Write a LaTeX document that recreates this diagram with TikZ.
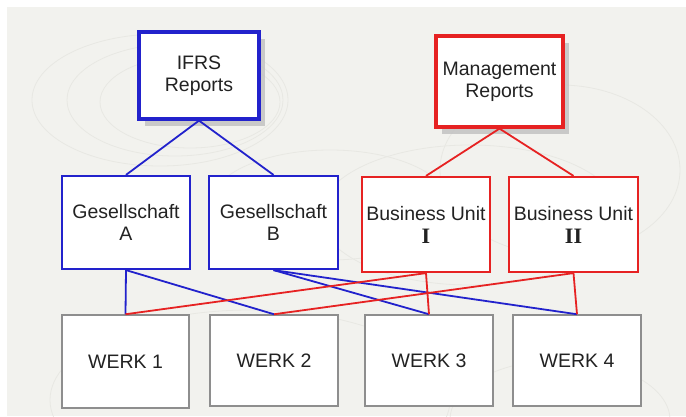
\documentclass[tikz,border=0pt]{standalone}
\usepackage{fontspec}
\setmainfont{Liberation Sans}
\newfontfamily\romfont{Liberation Serif}
\usetikzlibrary{shadows}
\definecolor{bg}{HTML}{F2F2EE}
\definecolor{deco}{HTML}{E8E8E3}
\definecolor{bblue}{HTML}{2222CC}
\definecolor{rred}{HTML}{E62222}
\definecolor{wgray}{HTML}{8E8E8E}
\definecolor{txt}{HTML}{222222}
\tikzset{
  box/.style={draw, fill=white, rectangle, inner sep=0pt, align=center,
    font=\fontsize{19.5}{22}\selectfont, text=txt},
  topbox/.style={box, line width=3.2pt,
    drop shadow={shadow xshift=6pt, shadow yshift=-7pt, fill=black!24, opacity=0.85}},
  midbox/.style={box, line width=2.2pt},
  werkbox/.style={box, draw=wgray, line width=1.5pt},
  bconn/.style={draw=bblue, line width=1.8pt},
  rconn/.style={draw=rred, line width=1.8pt},
  decoline/.style={draw=deco, line width=0.8pt}
}
\begin{document}
\begin{tikzpicture}[x=1pt,y=-1pt]
\useasboundingbox (0,0) rectangle (686,416);
\fill[white] (0,0) rectangle (686,416);
\fill[bg] (7,7) rectangle (686,416);
% faint background decoration
\draw[decoline] (160,100) ellipse [x radius=128, y radius=66];
\draw[decoline] (175,100) ellipse [x radius=108, y radius=56];
\draw[decoline] (190,102) ellipse [x radius=90, y radius=46];
\draw[decoline] (330,205) ellipse [x radius=120, y radius=55];
\draw[decoline] (560,170) ellipse [x radius=120, y radius=85];
\draw[decoline] (470,215) ellipse [x radius=150, y radius=70];
\draw[decoline] (250,400) ellipse [x radius=200, y radius=90];
\draw[decoline] (560,420) ellipse [x radius=110, y radius=60];

% nodes
\node[topbox, draw=bblue, minimum width=120pt, minimum height=87pt] (ifrs) at (199,75.5) {IFRS\\Reports};
\node[topbox, draw=rred, minimum width=127pt, minimum height=91pt] (mgmt) at (499.5,81.5) {Management\\Reports};

\node[midbox, draw=bblue, minimum width=128pt, minimum height=93pt] (ga) at (126,222.5) {Gesellschaft\\A};
\node[midbox, draw=bblue, minimum width=129pt, minimum height=93pt] (gb) at (273.5,222.5) {Gesellschaft\\B};
\node[midbox, draw=rred, minimum width=128pt, minimum height=95pt] (bu1) at (426,224.5) {Business Unit\\[1pt]{\romfont\bfseries\fontsize{22}{22}\selectfont I}};
\node[midbox, draw=rred, minimum width=129pt, minimum height=95pt] (bu2) at (573.5,224.5) {Business Unit\\[1pt]{\romfont\bfseries\fontsize{22}{22}\selectfont II}};

\node[werkbox, minimum width=127pt, minimum height=93pt] (w1) at (125.5,361.5) {WERK 1};
\node[werkbox, minimum width=128pt, minimum height=91pt] (w2) at (274,360.5) {WERK 2};
\node[werkbox, minimum width=128pt, minimum height=91pt] (w3) at (429,360.5) {WERK 3};
\node[werkbox, minimum width=128pt, minimum height=91pt] (w4) at (577,360.5) {WERK 4};

% connectors
\draw[bconn] (ifrs.south) -- (ga.north);
\draw[bconn] (ifrs.south) -- (gb.north);
\draw[rconn] (mgmt.south) -- (bu1.north);
\draw[rconn] (mgmt.south) -- (bu2.north);

\draw[bconn] (ga.south) -- (w1.north);
\draw[bconn] (ga.south) -- (w2.north);
\draw[bconn] (gb.south) -- (w3.north);
\draw[bconn] (gb.south) -- (w4.north);
\draw[rconn] (bu1.south) -- (w1.north);
\draw[rconn] (bu1.south) -- (w3.north);
\draw[rconn] (bu2.south) -- (w2.north);
\draw[rconn] (bu2.south) -- (w4.north);
\end{tikzpicture}
\end{document}
